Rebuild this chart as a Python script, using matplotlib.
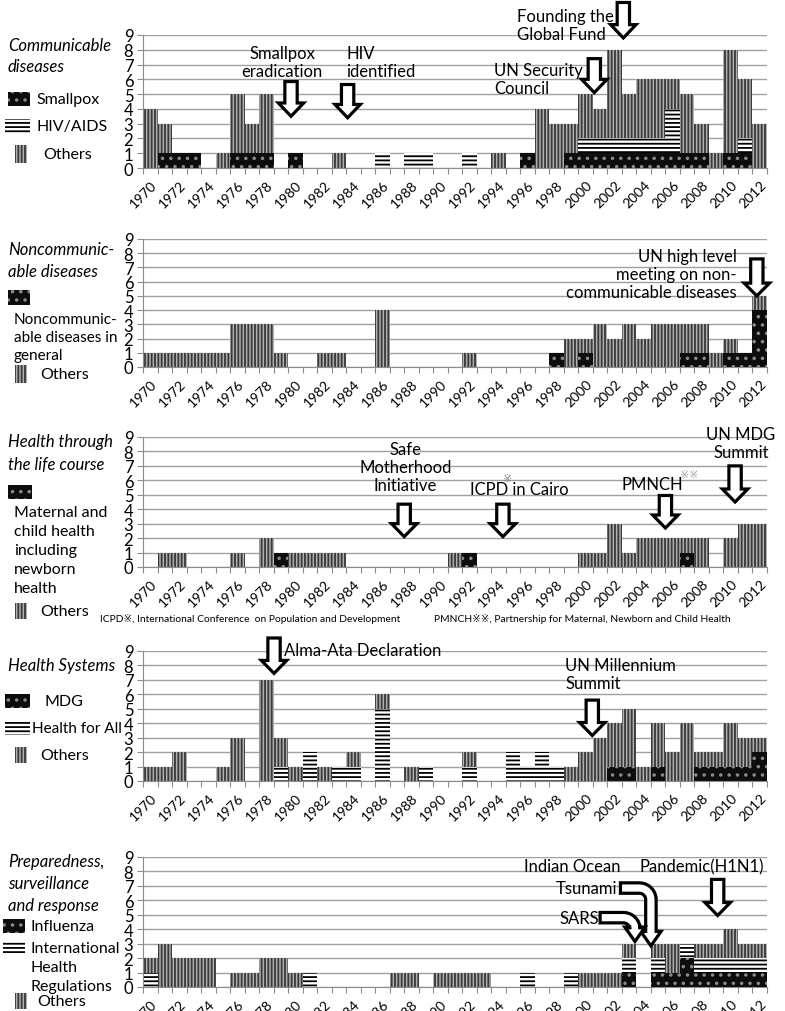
import numpy as np
import matplotlib
matplotlib.use("Agg")
import matplotlib.pyplot as plt
from matplotlib import font_manager
from matplotlib.patches import FancyArrow, Polygon, Rectangle

# ---- data (one value per year, 1970..2012) ----
years = list(range(1970, 2013))

cd_smallpox = [0,1,1,1,0,0,1,1,1,0, 1,0,0,0,0,0,0,0,0,0, 0,0,0,0,0,0,1,0,0,1,
               1,1,1,1,1,1,1,1,1,0, 1,1,0]
cd_hiv      = [0,0,0,0,0,0,0,0,0,0, 0,0,0,0,0,0,1,0,1,1, 0,0,1,0,0,0,0,0,0,0,
               1,1,1,1,1,1,3,0,0,0, 0,1,0]
cd_others   = [4,2,0,0,0,1,4,2,4,0, 0,0,0,1,0,0,0,0,0,0, 0,0,0,0,1,0,0,4,3,2,
               3,2,6,3,4,4,2,4,2,1, 7,4,3]

ncd_general = [0,0,0,0,0,0,0,0,0,0, 0,0,0,0,0,0,0,0,0,0, 0,0,0,0,0,0,0,0,1,0,
               1,0,0,0,0,0,0,1,1,0, 1,1,4]
ncd_others  = [1,1,1,1,1,1,3,3,3,1, 0,0,1,1,0,0,4,0,0,0, 0,0,1,0,0,0,0,0,0,2,
               1,3,2,3,2,3,3,2,2,1, 1,0,1]

lc_mch      = [0,0,0,0,0,0,0,0,0,1, 0,0,0,0,0,0,0,0,0,0, 0,0,1,0,0,0,0,0,0,0,
               0,0,0,0,0,0,0,1,0,0, 0,0,0]
lc_others   = [0,1,1,0,0,0,1,0,2,0, 1,1,1,1,0,0,0,0,0,0, 0,1,0,0,0,0,0,0,0,0,
               1,1,3,1,2,2,2,1,2,0, 2,3,3]

hs_mdg      = [0,0,0,0,0,0,0,0,0,0, 0,0,0,0,0,0,0,0,0,0, 0,0,0,0,0,0,0,0,0,0,
               0,0,1,1,0,1,0,0,1,1, 1,1,2]
hs_hfa      = [0,0,0,0,0,0,0,0,0,1, 0,2,0,1,1,0,5,0,0,1, 0,0,1,0,0,2,1,2,1,0,
               0,0,0,0,0,0,0,0,0,0, 0,0,0]
hs_others   = [1,1,2,0,0,1,3,0,7,2, 1,0,1,0,1,0,1,0,1,0, 0,0,1,0,0,0,0,0,0,1,
               2,3,3,4,1,3,2,4,1,1, 3,2,1]

pr_flu      = [0,0,0,0,0,0,0,0,0,0, 0,0,0,0,0,0,0,0,0,0, 0,0,0,0,0,0,0,0,0,0,
               0,0,0,1,0,1,1,2,1,1, 1,1,1]
pr_ihr      = [1,0,0,0,0,0,0,0,0,0, 0,1,0,0,0,0,0,0,0,0, 0,0,0,0,0,0,1,0,0,1,
               0,0,0,1,0,1,0,1,1,1, 1,1,1]
pr_others   = [1,3,2,2,2,0,1,1,2,2, 1,0,0,0,0,0,0,1,1,0, 1,1,1,1,0,0,0,0,0,0,
               1,1,1,1,0,1,2,0,1,1, 2,1,1]

plt.rcParams['font.family'] = ['Lato', 'DejaVu Sans', 'Noto Sans CJK JP']
plt.rcParams['hatch.linewidth'] = 1.3

W, H = 785, 1012
fig = plt.figure(figsize=(W / 100, H / 100), dpi=100)

STYLE = {
    'dots': dict(facecolor='#0d0d0d', edgecolor='#8a8a8a', hatch='..'),
    'hlines': dict(facecolor='white', edgecolor='black', hatch='----'),
    'vlines': dict(facecolor='#b0b0b0', edgecolor='#383838', hatch='|||||'),
}
GRID = '#a0a0a0'
LEG = 11.5


def fx(x):
    return x / W


def fy(y):
    return 1 - y / H


def make_axes(top, bottom):
    ax = fig.add_axes([fx(143), fy(bottom), 624 / W, (bottom - top) / H])
    ax.set_xlim(-0.5, len(years) - 0.5)
    ax.set_ylim(0, 9)
    ax.set_yticks(range(10))
    ax.yaxis.grid(True, color=GRID, lw=1)
    ax.set_axisbelow(True)
    for s in ['top', 'right']:
        ax.spines[s].set_visible(False)
    for s in ['left', 'bottom']:
        ax.spines[s].set_color('#8c8c8c')
    ax.set_xticks(np.arange(-0.5, len(years), 1), labels=[])
    ax.set_xticks(np.arange(0, len(years), 2),
                  labels=[str(y) for y in years[::2]], minor=True)
    ax.tick_params(axis='x', which='major', length=4, color='#8c8c8c')
    ax.tick_params(axis='x', which='minor', length=0, labelsize=10, pad=7)
    ax.tick_params(axis='y', length=4, color='#8c8c8c', labelsize=12, pad=3)
    for lbl in ax.get_xticklabels(minor=True):
        lbl.set_rotation(45)
        lbl.set_ha('right')
        lbl.set_rotation_mode('anchor')
    return ax


def stack(ax, series):
    x = np.arange(len(years))
    bottom = np.zeros(len(years))
    for vals, key in series:
        vals = np.array(vals, dtype=float)
        ax.bar(x, vals, width=1.0, bottom=bottom, linewidth=0, **STYLE[key])
        bottom += vals


def block_arrow(ax, x, ytop, ytip):
    ax.add_patch(FancyArrow(x, ytop, 0, ytip - ytop, width=0.85, head_width=1.75,
                            head_length=0.9, length_includes_head=True,
                            fc='white', ec='black', lw=2.3, clip_on=False, zorder=5))


def bent_arrow(ax, x0, y0, xc, ytip, w=0.36, r=0.8, hw=0.7, hl=1.0):
    cx, cy = xc - r, y0 - r
    pts = [(x0, y0 + w)]
    for a in np.radians(np.linspace(90, 0, 14)):
        pts.append((cx + (r + w) * np.cos(a), cy + (r + w) * np.sin(a)))
    pts += [(xc + w, ytip + hl), (xc + hw, ytip + hl), (xc, ytip),
            (xc - hw, ytip + hl), (xc - w, ytip + hl)]
    for a in np.radians(np.linspace(0, 90, 14)):
        pts.append((cx + (r - w) * np.cos(a), cy + (r - w) * np.sin(a)))
    pts.append((x0, y0 - w))
    ax.add_patch(Polygon(pts, closed=True, fc='white', ec='black', lw=2.3,
                         clip_on=False, zorder=5))


def note(ax, x, y, s, ha='center', size=12, **kw):
    ax.text(x, y, s, ha=ha, va='center', fontsize=size, linespacing=1.15,
            clip_on=False, zorder=6, **kw)


def title(lines, ys):
    for s, y in zip(lines, ys):
        fig.text(fx(8), fy(y), s, fontsize=12, style='italic', va='center')


def swatch(key, x0, x1, y0, y1):
    fig.patches.append(Rectangle((fx(x0), fy(y1)), (x1 - x0) / W, (y1 - y0) / H,
                                 transform=fig.transFigure, linewidth=0,
                                 **STYLE[key]))


def label(s, x, y, size=LEG):
    fig.text(fx(x), fy(y), s, fontsize=size, va='center')


# ---- panel 1: communicable diseases ----
ax1 = make_axes(36, 169)
stack(ax1, [(cd_smallpox, 'dots'), (cd_hiv, 'hlines'), (cd_others, 'vlines')])
note(ax1, 9.1, 7.2, 'Smallpox\neradication')
block_arrow(ax1, 9.7, 5.85, 3.5)
note(ax1, 13.5, 7.2, 'HIV\nidentified', ha='left')
block_arrow(ax1, 13.6, 5.65, 3.4)
note(ax1, 25.25, 9.65, 'Founding the\nGlobal Fund', ha='left')
block_arrow(ax1, 32.6, 11.2, 8.8)
note(ax1, 23.7, 6.05, 'UN Security\nCouncil', ha='left')
block_arrow(ax1, 30.6, 7.4, 5.1)
title(['Communicable', 'diseases'], [46, 67])
swatch('dots', 8, 30, 93, 107); label('Smallpox', 36, 100)
swatch('hlines', 5, 30, 120, 134); label('HIV/AIDS', 36, 127)
swatch('vlines', 15, 27, 146, 164); label('Others', 43, 155)

# ---- panel 2: noncommunicable diseases ----
ax2 = make_axes(240, 368)
stack(ax2, [(ncd_general, 'dots'), (ncd_others, 'vlines')])
note(ax2, 40.4, 6.55, 'UN high level\nmeeting on non-\ncommunicable diseases',
     ha='right', multialignment='right')
block_arrow(ax2, 41.8, 7.6, 5.0)
title(['Noncommunic-', 'able diseases'], [250, 272])
swatch('dots', 8, 30, 291, 306)
for s, y in zip(['Noncommunic-', 'able diseases in', 'general'], [320, 338, 356]):
    label(s, 14, y, 11)
swatch('vlines', 15, 27, 366, 384); label('Others', 40, 375)

# ---- panel 3: health through the life course ----
ax3 = make_axes(438, 568)
stack(ax3, [(lc_mch, 'dots'), (lc_others, 'vlines')])
note(ax3, 17.6, 6.9, 'Safe\nMotherhood\nInitiative')
block_arrow(ax3, 17.5, 4.35, 2.1)
note(ax3, 25.4, 5.4, 'ICPD in Cairo')
note(ax3, 24.6, 6.2, '※', size=8, color='#777777')
block_arrow(ax3, 24.3, 4.35, 2.1)
note(ax3, 34.6, 5.75, 'PMNCH')
note(ax3, 36.5, 6.45, '※※', ha='left', size=8, color='#999999')
block_arrow(ax3, 35.5, 4.95, 2.7)
note(ax3, 40.7, 8.57, 'UN MDG\nSummit')
block_arrow(ax3, 40.3, 7.0, 4.5)
title(['Health through', 'the life course'], [442, 465])
swatch('dots', 8, 32, 486, 500)
for s, y in zip(['Maternal and', 'child health', 'including', 'newborn', 'health'],
                [513, 532, 551, 570, 589]):
    label(s, 14, y)
swatch('vlines', 15, 27, 604, 620); label('Others', 40, 612)

installed = {f.name for f in font_manager.fontManager.ttflist}
if 'Liberation Sans Narrow' in installed:
    foot = dict(fontsize=8.5, family=['Liberation Sans Narrow', 'DejaVu Sans', 'Noto Sans CJK JP'])
else:
    foot = dict(fontsize=7.4)
fig.text(fx(100), fy(619), 'ICPD※, International Conference  on Population and Development',
         va='center', **foot)
fig.text(fx(434), fy(619), 'PMNCH※※, Partnership for Maternal, Newborn and Child Health',
         va='center', **foot)

# ---- panel 4: health systems ----
ax4 = make_axes(652, 782)
stack(ax4, [(hs_mdg, 'dots'), (hs_hfa, 'hlines'), (hs_others, 'vlines')])
note(ax4, 9.25, 9.05, 'Alma-Ata Declaration', ha='left')
block_arrow(ax4, 8.53, 9.9, 7.45)
note(ax4, 28.6, 7.4, 'UN Millennium\nSummit', ha='left')
block_arrow(ax4, 30.46, 5.6, 3.15)
title(['Health Systems'], [666])
swatch('dots', 5, 30, 695, 709); label('MDG', 45, 702)
swatch('hlines', 5, 30, 722, 736); label('Health for All', 32, 729, 11)
swatch('vlines', 15, 27, 748, 764); label('Others', 40, 756)

# ---- panel 5: preparedness, surveillance and response ----
ax5 = make_axes(858, 988)
stack(ax5, [(pr_flu, 'dots'), (pr_ihr, 'hlines'), (pr_others, 'vlines')])
note(ax5, 32.4, 8.35, 'Indian Ocean', ha='right')
note(ax5, 32.2, 6.85, 'Tsunami', ha='right')
bent_arrow(ax5, 32.4, 6.85, 34.5, 2.85)
note(ax5, 30.9, 4.8, 'SARS', ha='right')
bent_arrow(ax5, 31.0, 4.8, 33.4, 3.15)
note(ax5, 33.7, 8.35, 'Pandemic(H1N1)', ha='left')
block_arrow(ax5, 39.1, 7.45, 4.95)
title(['Preparedness,', 'surveillance', 'and response'], [862, 884, 906])
swatch('dots', 3, 25, 920, 934); label('Influenza', 30, 927)
swatch('hlines', 3, 25, 942, 956)
for s, y in zip(['International', 'Health', 'Regulations'], [949, 968, 987]):
    label(s, 30, y)
swatch('vlines', 15, 27, 994, 1010); label('Others', 37, 1002)

fig.savefig('out.png', dpi=100)
